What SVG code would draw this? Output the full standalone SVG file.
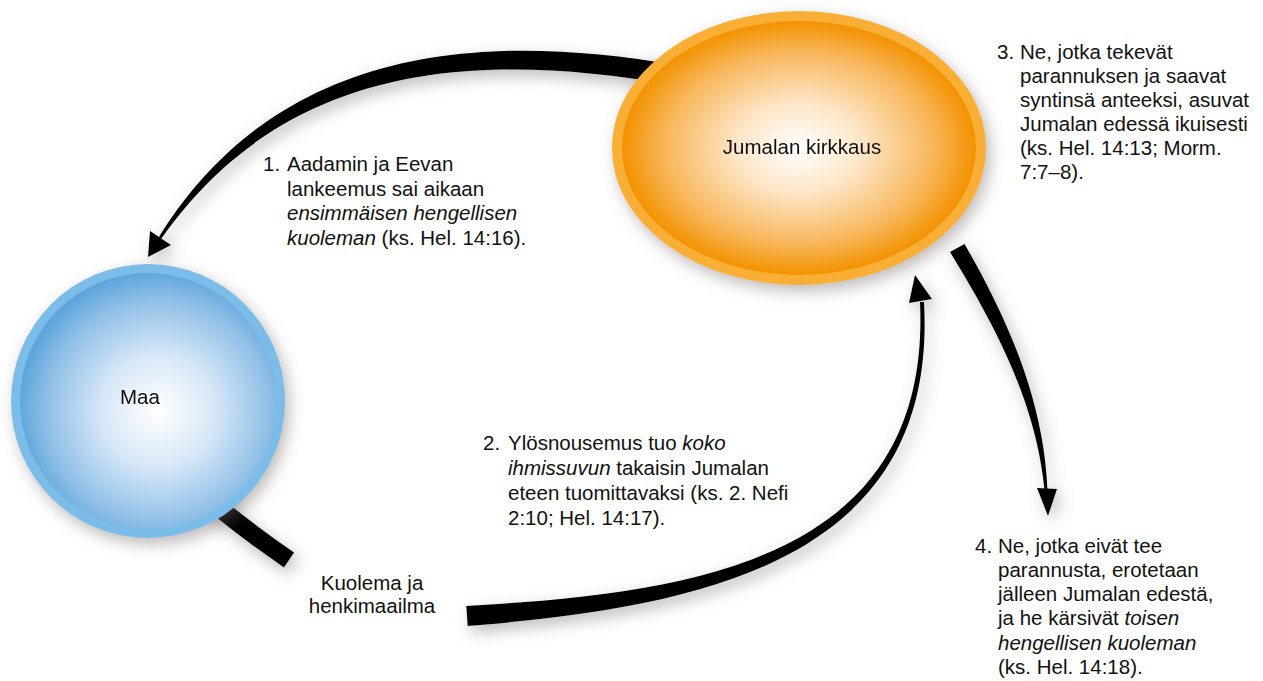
<svg xmlns="http://www.w3.org/2000/svg" width="1263" height="681" viewBox="0 0 1263 681">
<style>
text{font-family:"Liberation Sans",Arial,sans-serif;font-size:20.5px;fill:#111}
.it{font-style:italic}
.c{text-anchor:middle}
.arr{fill:#000}
</style>
<defs>
<filter id="sh" x="-30%" y="-30%" width="160%" height="160%">
<feGaussianBlur in="SourceAlpha" stdDeviation="8"/>
<feOffset dx="4" dy="6" result="b"/>
<feFlood flood-color="#6b6460" flood-opacity="0.45"/>
<feComposite in2="b" operator="in"/>
<feMerge><feMergeNode/><feMergeNode in="SourceGraphic"/></feMerge>
</filter>
<radialGradient id="og" cx="50%" cy="50%" r="50%">
<stop offset="0" stop-color="#ffffff"/>
<stop offset="0.35" stop-color="#fde6c8"/>
<stop offset="0.75" stop-color="#f8b75c"/>
<stop offset="1" stop-color="#f39200"/>
</radialGradient>
<radialGradient id="bg" cx="54%" cy="54%" r="55%">
<stop offset="0" stop-color="#ffffff"/>
<stop offset="0.4" stop-color="#d7e7f7"/>
<stop offset="0.8" stop-color="#8dbee7"/>
<stop offset="1" stop-color="#5ca4db"/>
</radialGradient>
</defs>

<g id="connectors" filter="url(#sh)">
<path class="arr" d="M677,65 C468,29 274,52 158.8,237.2 L161.2,238.8 C284,64 472,50 673,85 Z"/>
<polygon class="arr" points="148,257 150,231 171,245"/>
<path d="M200,492 Q245,530 289,560" fill="none" stroke="#000" stroke-width="18"/>
<path class="arr" d="M467.7,626 C700.8,607 938.5,562 924,302 L920,302 C931.5,558 699.2,593 466.3,606 Z"/>
<polygon class="arr" points="915,275 909,303 932,299"/>
<path class="arr" d="M950,252 C994,324 1036,401 1044.5,490 L1047.5,490 C1044,399 1006,316 964.5,244 Z"/>
<polygon class="arr" points="1048,516 1037,488 1057,489"/>
</g>

<g id="node-jumala" filter="url(#sh)">
<ellipse cx="799" cy="148" rx="187" ry="137" fill="#f9ae36"/>
<ellipse cx="799" cy="148" rx="177" ry="127" fill="url(#og)"/>
<text class="c" x="802" y="154">Jumalan kirkkaus</text>
</g>

<g id="node-maa" filter="url(#sh)">
<circle cx="148" cy="401" r="137" fill="#7cbce8"/>
<circle cx="148" cy="401" r="128" fill="url(#bg)"/>
<text class="c" x="140" y="404">Maa</text>
</g>

<g id="label-kuolema">
<text class="c" x="372" y="590">Kuolema ja</text>
<text class="c" x="372" y="613">henkimaailma</text>
</g>

<g id="note-1">
<text x="263" y="171">1.<tspan x="287">Aadamin ja Eevan</tspan></text>
<text x="287" y="195.5">lankeemus sai aikaan</text>
<text x="287" y="220" class="it">ensimmäisen hengellisen</text>
<text x="287" y="244.5"><tspan class="it">kuoleman</tspan> (ks. Hel. 14:16).</text>
</g>

<g id="note-2">
<text x="483" y="450">2.<tspan x="508">Ylösnousemus tuo </tspan><tspan class="it">koko</tspan></text>
<text x="508" y="475"><tspan class="it">ihmissuvun</tspan> takaisin Jumalan</text>
<text x="508" y="500">eteen tuomittavaksi (ks. 2. Nefi</text>
<text x="508" y="524.5">2:10; Hel. 14:17).</text>
</g>

<g id="note-3">
<text x="997" y="59">3.<tspan x="1020">Ne, jotka tekevät</tspan></text>
<text x="1020" y="83">parannuksen ja saavat</text>
<text x="1020" y="107">syntinsä anteeksi, asuvat</text>
<text x="1020" y="131">Jumalan edessä ikuisesti</text>
<text x="1020" y="155">(ks. Hel. 14:13; Morm.</text>
<text x="1020" y="179">7:7–8).</text>
</g>

<g id="note-4">
<text x="975" y="553">4.<tspan x="998">Ne, jotka eivät tee</tspan></text>
<text x="998" y="577">parannusta, erotetaan</text>
<text x="998" y="601">jälleen Jumalan edestä,</text>
<text x="998" y="625">ja he kärsivät <tspan class="it">toisen</tspan></text>
<text x="998" y="650" class="it">hengellisen kuoleman</text>
<text x="998" y="674">(ks. Hel. 14:18).</text>
</g>
</svg>
